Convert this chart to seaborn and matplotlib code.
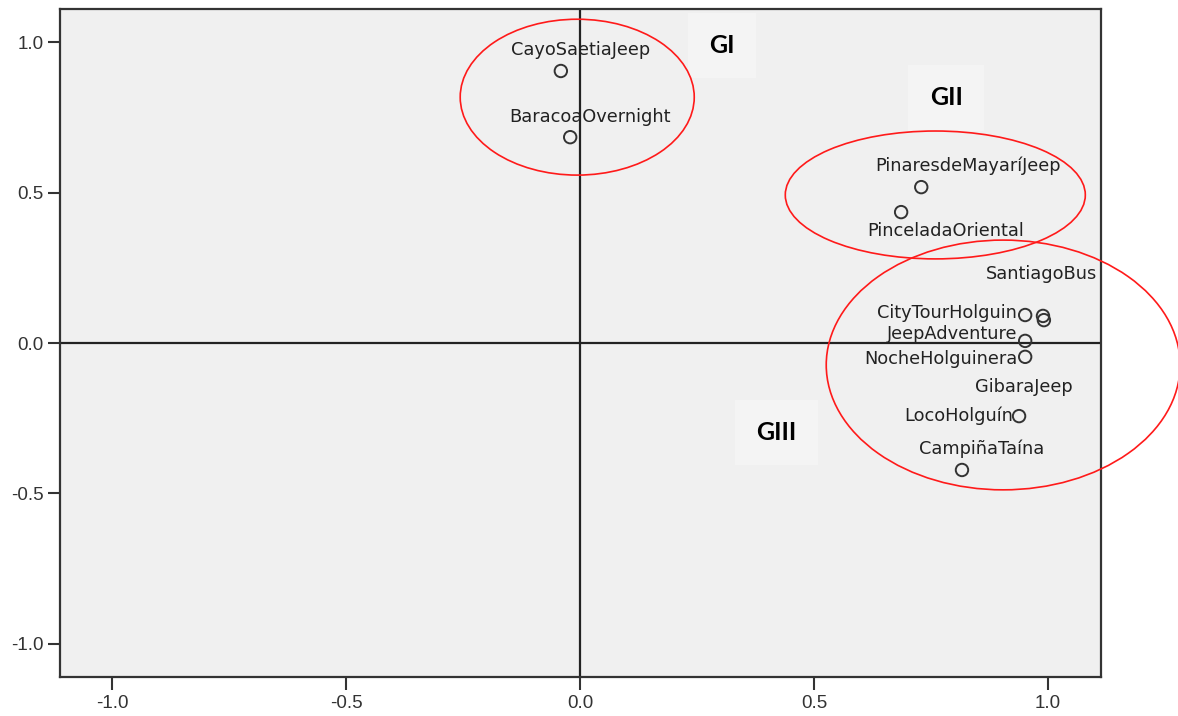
import matplotlib
matplotlib.use("Agg")
import matplotlib.pyplot as plt
from matplotlib.patches import Ellipse
import seaborn as sns
import pandas as pd

# Excursion coordinates on the two extracted dimensions
names = ["CayoSaetiaJeep", "BaracoaOvernight", "PinaresdeMayaríJeep", "PinceladaOriental",
         "SantiagoBus", "CityTourHolguin", "GibaraJeep", "JeepAdventure",
         "NocheHolguinera", "LocoHolguín", "CampiñaTaína"]
dim1 = [-0.041, -0.021, 0.729, 0.686, 0.989, 0.951, 0.991, 0.951, 0.951, 0.938, 0.816]
dim2 = [0.904, 0.684, 0.518, 0.435, 0.090, 0.093, 0.076, 0.007, -0.046, -0.243, -0.422]

# label placement relative to each point (pixels: dx, dy) and alignment
label_dx = [20, 20, 47, 44, -1, -8, -20, -8, -8, -6, 20]
label_dy = [21, 20, 21, -19, 42, 2, -67, 7, -2, 0, 21]
label_ha = ["center", "center", "center", "center", "center", "right", "center",
            "right", "right", "right", "center"]

# cluster outlines: centre x, centre y, width, height
groups = ["GI", "GII", "GIII"]
ell_x = [-0.006, 0.759, 0.904]
ell_y = [0.817, 0.492, -0.073]
ell_w = [0.50, 0.641, 0.756]
ell_h = [0.518, 0.425, 0.830]
# group title positions
grp_x = [0.303, 0.782, 0.420]
grp_y = [0.988, 0.815, -0.297]

x_ticks = [-1.0, -0.5, 0.0, 0.5, 1.0]
y_ticks = [-1.0, -0.5, 0.0, 0.5, 1.0]

df = pd.DataFrame({"name": names, "dim1": dim1, "dim2": dim2})

sns.set_style("white")
plt.rcParams["font.family"] = ["Liberation Sans", "DejaVu Sans"]

fig = plt.figure(figsize=(11.78, 7.16), dpi=100)
ax = fig.add_axes([60 / 1178, 1 - 677 / 716, 1041 / 1178, 668 / 716])
ax.set_facecolor("#f0f0f0")

ax.axhline(0, color="#222222", lw=1.6, zorder=1)
ax.axvline(0, color="#222222", lw=1.6, zorder=1)

sns.scatterplot(data=df, x="dim1", y="dim2", ax=ax, marker="o", s=80,
                facecolor="none", edgecolor="#333333", linewidth=1.4, zorder=3)

for n, x, y, dx, dy, ha in zip(names, dim1, dim2, label_dx, label_dy, label_ha):
    ax.annotate(n, (x, y), xytext=(dx, dy), textcoords="offset pixels",
                ha=ha, va="center", fontsize=12.8, color="#222222", zorder=4,
                family=["DejaVu Sans"])

for cx, cy, w, h in zip(ell_x, ell_y, ell_w, ell_h):
    ax.add_patch(Ellipse((cx, cy), w, h, fill=False, edgecolor="#ff1a1a",
                         lw=1.2, clip_on=False, zorder=5))

for g, gx, gy in zip(groups, grp_x, grp_y):
    ax.text(gx, gy, g, fontsize=18, fontweight="bold", family=["Lato", "DejaVu Sans"],
            ha="center", va="center", color="black", zorder=4,
            bbox=dict(boxstyle="square,pad=0.85", facecolor="#f4f4f4", edgecolor="none"))

ax.set_xlim(-1.111, 1.113)
ax.set_ylim(-1.110, 1.110)
ax.set_xticks(x_ticks)
ax.set_yticks(y_ticks)
ax.set_xticklabels([f"{t:.1f}" for t in x_ticks])
ax.set_yticklabels([f"{t:.1f}" for t in y_ticks])
ax.set_xlabel("")
ax.set_ylabel("")
ax.tick_params(axis="both", direction="out", length=9, width=1.5, color="#333333",
               labelsize=13.5, labelcolor="#333333", left=True, bottom=True)
ax.tick_params(axis="x", pad=4)
ax.tick_params(axis="y", pad=3)
for s in ax.spines.values():
    s.set_color("#333333")
    s.set_linewidth(1.6)

fig.savefig("out.png", dpi=100, facecolor="white")
